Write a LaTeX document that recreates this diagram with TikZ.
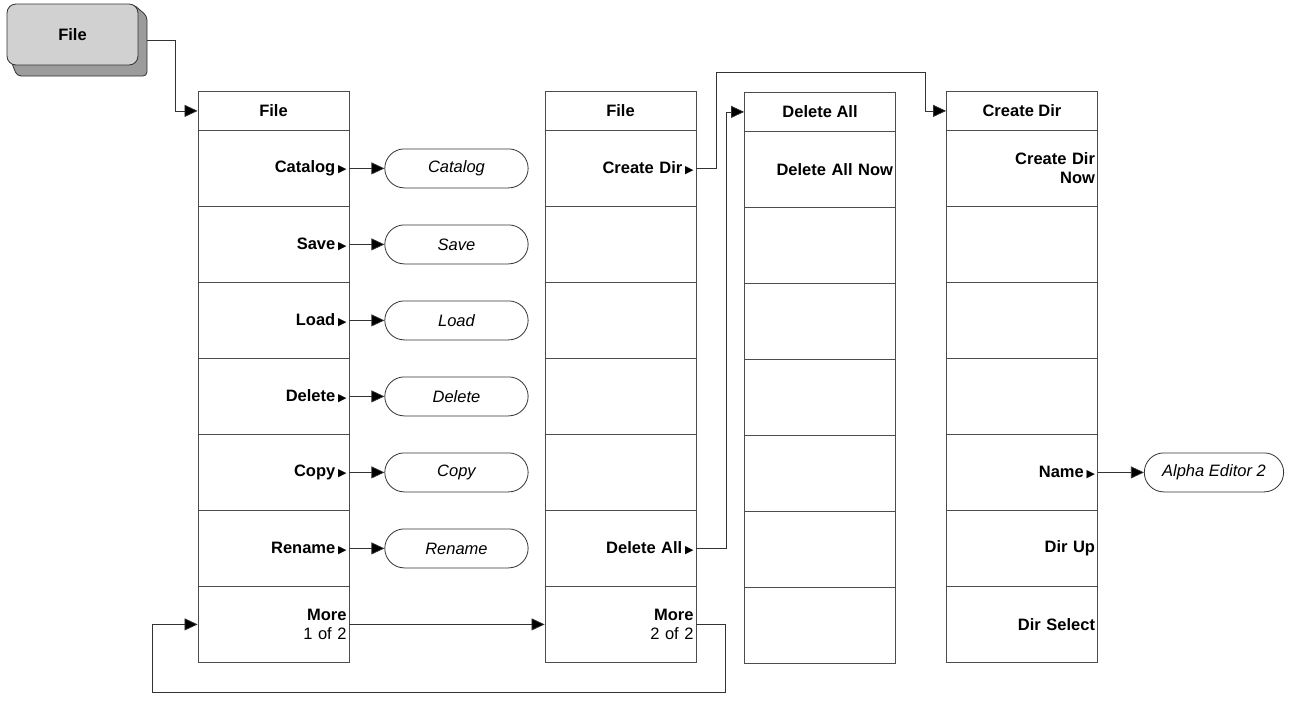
\documentclass[tikz,border=0pt]{standalone}
\usepackage{fontspec}
\setmainfont{Liberation Sans}
\newfontfamily\symfont{DejaVu Sans}
\usetikzlibrary{arrows.meta,positioning,shapes.misc}
\newcommand{\sub}{\,{\symfont\fontsize{11}{11}\selectfont ▶}}

\begin{document}
\begin{tikzpicture}[x=1pt, y=-1pt,
  menuhead/.style={draw=black!70, line width=0.8pt, minimum width=151pt, minimum height=39pt,
                   inner sep=0pt, anchor=north, font=\fontsize{16.5}{19}\selectfont\bfseries},
  menukey/.style={draw=black!70, line width=0.8pt, minimum height=76pt, text width=146pt,
                  inner xsep=2.5pt, align=right, anchor=north, font=\fontsize{16.5}{19}\selectfont\bfseries},
  pill/.style={draw=black!80, rounded rectangle, line width=0.8pt, minimum width=150pt,
               minimum height=39pt, font=\fontsize{16.5}{19}\selectfont\itshape},
  conn/.style={draw=black!80, line width=0.7pt, -{Triangle[length=13pt,width=12pt,fill=black]}},
  btn/.style={draw=black!80, fill=gray!36, rounded corners=9pt, line width=0.8pt,
              minimum width=131pt, minimum height=61pt, font=\fontsize{16.5}{19}\selectfont\bfseries}
]
  \useasboundingbox (0,0) rectangle (1296,702);

  % file key
  \filldraw[draw=black!80, fill=gray!78, line width=0.8pt, rounded corners=4pt]
    (9,56) -- (17,76) -- (147,76) -- (147,16) -- (133,4) -- cycle;
  \node[btn] (filebtn) at (72.5,34.5) {File};
  \coordinate (btnout) at (147,40);

  % menu columns
  \node[menuhead] (c1h) at (273.5,91) {File};
  \foreach \lbl [count=\i] in {{Catalog\sub},{Save\sub},{Load\sub},{Delete\sub},{Copy\sub},{Rename\sub},{More\\\mdseries 1 of 2}}
    \node[menukey] (c1r\i) at (273.5,{130+76*(\i-1)}) {\lbl};

  \node[menuhead] (c2h) at (620.5,91) {File};
  \foreach \lbl [count=\i] in {{Create Dir\sub},{},{},{},{},{Delete All\sub},{More\\\mdseries 2 of 2}}
    \node[menukey] (c2r\i) at (620.5,{130+76*(\i-1)}) {\lbl};

  \node[menuhead] (c3h) at (820,92) {Delete All};
  \foreach \lbl [count=\i] in {{Delete All Now},{},{},{},{},{},{}}
    \node[menukey] (c3r\i) at (820,{131+76*(\i-1)}) {\lbl};

  \node[menuhead] (c4h) at (1022,91) {Create Dir};
  \foreach \lbl [count=\i] in {{Create Dir\\Now},{},{},{},{Name\sub},{Dir Up},{Dir Select}}
    \node[menukey] (c4r\i) at (1022,{130+76*(\i-1)}) {\lbl};

  % form entries
  \node[pill, right=35pt of c1r1] (catalog) {Catalog};
  \node[pill, right=35pt of c1r2] (save) {Save};
  \node[pill, right=35pt of c1r3] (load) {Load};
  \node[pill, right=35pt of c1r4] (delete) {Delete};
  \node[pill, right=35pt of c1r5] (copy) {Copy};
  \node[pill, right=35pt of c1r6] (rename) {Rename};
  \node[pill, minimum width=146pt, right=46pt of c4r5] (alpha) {Alpha Editor 2};

  \coordinate (cdtop) at (925,72);
  \coordinate (loopR) at (725,692);
  \coordinate (loopL) at (152,692);

  \draw[conn] (btnout) -- ++(28pt,0) |- (c1h.west);
  \foreach \i/\p in {1/catalog,2/save,3/load,4/delete,5/copy,6/rename}
    \draw[conn] (c1r\i.east) -- (\p);
  \draw[conn] (c4r5.east) -- (alpha);
  \draw[conn] (c1r7.east) -- (c2r7.west);
  \draw[conn] (c2r7.east) -| (loopR) -- (loopL) |- (c1r7.west);
  \draw[conn] (c2r1.east) -- ++(20pt,0) |- (cdtop) |- (c4h.west);
  \draw[conn] (c2r6.east) -- ++(30pt,0) |- (c3h.west);
\end{tikzpicture}
\end{document}
